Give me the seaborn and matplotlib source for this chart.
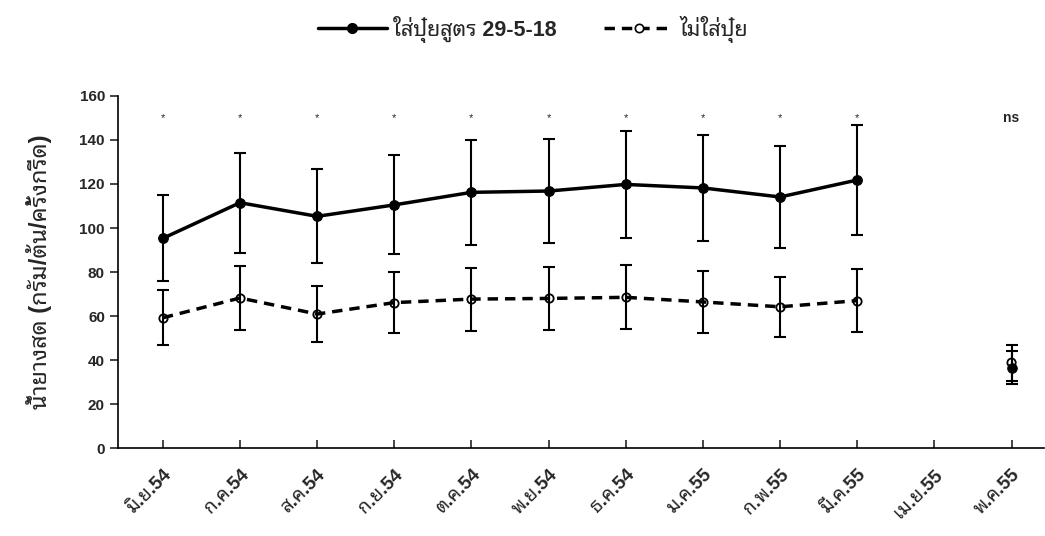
import matplotlib
matplotlib.use("Agg")
import matplotlib.pyplot as plt
from matplotlib import font_manager
from matplotlib.lines import Line2D
import numpy as np
import pandas as pd
import seaborn as sns

months = ['มิ.ย.54', 'ก.ค.54', 'ส.ค.54', 'ก.ย.54', 'ต.ค.54', 'พ.ย.54',
          'ธ.ค.54', 'ม.ค.55', 'ก.พ.55', 'มี.ค.55', 'เม.ย.55', 'พ.ค.55']
fert = [95.3, 111.5, 105.3, 110.5, 116.2, 116.8, 119.8, 118.2, 114.1, 121.8, np.nan, 36.5]
fert_sd = [19.5, 22.8, 21.4, 22.5, 23.7, 23.7, 24.3, 24.1, 23.3, 24.8, np.nan, 7.6]
nofert = [59.2, 68.2, 60.9, 66.1, 67.7, 68.0, 68.5, 66.4, 64.2, 67.0, np.nan, 38.8]
nofert_sd = [12.5, 14.4, 12.9, 14.0, 14.3, 14.4, 14.6, 14.0, 13.6, 14.2, np.nan, 8.2]
signif = ['*', '*', '*', '*', '*', '*', '*', '*', '*', '*', '', 'ns']
names = ['ใส่ปุ๋ยสูตร 29-5-18', 'ไม่ใส่ปุ๋ย']

sns.set_style("white")
# Liberation for latin/digits, a looped thai face for the rest
have = {f.name for f in font_manager.fontManager.ttflist}
thai = 'Loma'
for cand in ['Noto Sans Thai Looped', 'IBM Plex Sans Thai Looped', 'Loma']:
    if cand in have:
        thai = cand
        break
plt.rcParams['font.family'] = ['Liberation Sans', thai, 'DejaVu Sans']
plt.rcParams['font.weight'] = 'bold'

fig = plt.figure(figsize=(10.45, 5.36), dpi=100)
ax = fig.add_axes([0.113, 0.164, 0.886, 0.657])

x = np.arange(len(months))
df = pd.DataFrame({'x': x, 'fert': fert, 'nofert': nofert})
main = df.iloc[:10]

# error bars first
ax.errorbar(x, fert, yerr=fert_sd, fmt='none', ecolor='black', elinewidth=1.5,
            capsize=4, capthick=1.5, zorder=2)
ax.errorbar(x, nofert, yerr=nofert_sd, fmt='none', ecolor='black', elinewidth=1.5,
            capsize=4, capthick=1.5, zorder=2)

sns.lineplot(data=main, x='x', y='fert', ax=ax, color='black', lw=2.5,
             marker='o', markersize=7, markerfacecolor='black', markeredgecolor='black', zorder=3)
sns.lineplot(data=main, x='x', y='nofert', ax=ax, color='black', lw=2.5,
             linestyle=(0, (3, 2)), marker='o', markersize=6, markerfacecolor='none',
             markeredgecolor='black', markeredgewidth=1.3, zorder=3)

# last month, separate point
last = df.iloc[[11]]
sns.scatterplot(data=last, x='x', y='fert', ax=ax, color='black', s=49, edgecolor='black', zorder=4)
sns.scatterplot(data=last, x='x', y='nofert', ax=ax, facecolor='none', s=36,
                edgecolor='black', linewidth=1.3, zorder=5)

for i, s in enumerate(signif):
    if s == '*':
        ax.text(x[i], 150, s, ha='center', va='center', fontsize=8, fontweight='normal')
    elif s:
        ax.text(x[i], 150, s, ha='center', va='center', fontsize=10, fontweight='bold')

ax.set_xlim(-0.58, 11.42)
ax.set_ylim(0, 160)
ax.set_yticks(range(0, 161, 20))
ax.set_xticks(x)
ax.set_xticklabels(months, rotation=45, ha='right', rotation_mode='anchor', fontsize=13.5)
ax.tick_params(axis='y', labelsize=11, direction='out', length=6, width=1.2, left=True)
ax.tick_params(axis='x', direction='in', length=6, width=1.2, bottom=True, pad=13)
for lab in ax.get_yticklabels() + ax.get_xticklabels():
    lab.set_fontweight('bold')
ax.set_xlabel('')
ax.set_ylabel('น้ำยางสด (กรัม/ต้น/ครั้งกรีด)', fontsize=17, fontweight='bold', labelpad=20)

sns.despine(ax=ax)
ax.spines['left'].set_linewidth(1.2)
ax.spines['bottom'].set_linewidth(1.2)
ax.spines['left'].set_color('black')
ax.spines['bottom'].set_color('black')
ax.grid(False)

handles = [
    Line2D([], [], color='black', lw=2.5, marker='o', markersize=7),
    Line2D([], [], color='black', lw=2.5, linestyle=(0, (3, 2)), marker='o', markersize=6,
           markerfacecolor='white', markeredgewidth=1.2),
]
fig.legend(handles, names, loc='center', bbox_to_anchor=(0.51, 0.945), ncol=2,
           frameon=False, handlelength=3.2, columnspacing=2.2, handletextpad=0.3,
           prop={'size': 15.5, 'weight': 'bold'})

fig.savefig('out.png', dpi=100)
